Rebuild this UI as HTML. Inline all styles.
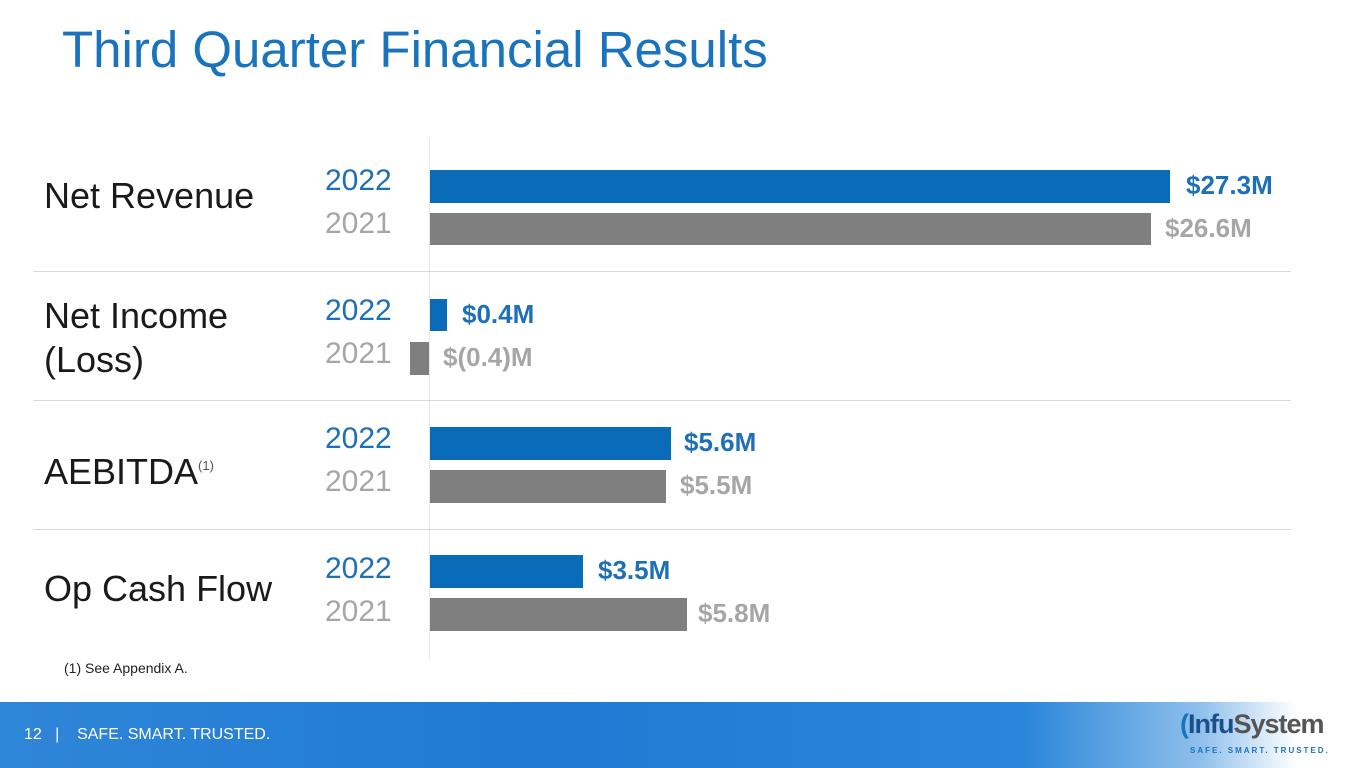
<!DOCTYPE html>
<html><head><meta charset="utf-8"><style>
*{margin:0;padding:0}
body{width:1365px;height:768px;position:relative;overflow:hidden;background:#fff;font-family:"Liberation Sans",sans-serif}
.a{position:absolute;white-space:nowrap}
.t{left:62px;top:20px;font-size:51px;color:#1a73bd}
.lab{font-size:36px;color:#1a1a1a;left:44px;line-height:44px}
.yr{font-size:30px;left:325px}
.b22{color:#1d6fb8}.b21{color:#a6a6a6}
.bar{position:absolute}
.bl{background:#0a6bb8}.gr{background:#7f7f7f}
.v{font-size:26px;font-weight:bold}
.sep{position:absolute;left:33px;width:1258px;height:1px;background:#d9d9d9}
</style></head><body>
<div class="a t">Third Quarter Financial Results</div>
<div style="position:absolute;left:429px;top:138px;width:1px;height:522px;background:#e8e8e8"></div>
<div class="sep" style="top:271px"></div><div class="sep" style="top:400px"></div><div class="sep" style="top:529px"></div>

<div class="a lab" style="top:174px">Net Revenue</div>
<div class="a lab" style="top:294px">Net Income<br>(Loss)</div>
<div class="a lab" style="top:444px">AEBITDA<sup style="font-size:13px;color:#555;vertical-align:14px">(1)</sup></div>
<div class="a lab" style="top:567px">Op Cash Flow</div>

<div class="a yr b22" style="top:164px">2022</div><div class="a yr b21" style="top:207px">2021</div>
<div class="a yr b22" style="top:294px">2022</div><div class="a yr b21" style="top:337px">2021</div>
<div class="a yr b22" style="top:422px">2022</div><div class="a yr b21" style="top:465px">2021</div>
<div class="a yr b22" style="top:552px">2022</div><div class="a yr b21" style="top:595px">2021</div>

<div class="bar bl" style="left:430px;top:170px;width:740px;height:33px"></div>
<div class="bar gr" style="left:430px;top:213px;width:721px;height:32px"></div>
<div class="bar bl" style="left:430px;top:299px;width:17px;height:32px"></div>
<div class="bar gr" style="left:410px;top:342px;width:19px;height:33px"></div>
<div class="bar bl" style="left:430px;top:427px;width:241px;height:33px"></div>
<div class="bar gr" style="left:430px;top:470px;width:236px;height:33px"></div>
<div class="bar bl" style="left:430px;top:555px;width:153px;height:33px"></div>
<div class="bar gr" style="left:430px;top:598px;width:257px;height:33px"></div>

<div class="a v b22" style="left:1186px;top:170px">$27.3M</div>
<div class="a v b21" style="left:1165px;top:213px">$26.6M</div>
<div class="a v b22" style="left:462px;top:299px">$0.4M</div>
<div class="a v b21" style="left:443px;top:342px">$(0.4)M</div>
<div class="a v b22" style="left:684px;top:427px">$5.6M</div>
<div class="a v b21" style="left:680px;top:470px">$5.5M</div>
<div class="a v b22" style="left:598px;top:555px">$3.5M</div>
<div class="a v b21" style="left:698px;top:598px">$5.8M</div>

<div class="a" style="left:64px;top:660px;font-size:14px;color:#222">(1) See Appendix A.</div>

<div style="position:absolute;left:0;top:702px;width:1365px;height:66px;background:linear-gradient(90deg,#2f86d8 0%,#1f7ad3 40%,#2a86da 75%,#8fc0ec 88%,#fff 95%)"></div>
<div class="a" style="left:24px;top:726px;font-size:16px;color:#fff">12 &nbsp;&nbsp;|&nbsp;&nbsp;&nbsp; SAFE. SMART. TRUSTED.</div>
<div class="a" style="left:1180px;top:709px;font-size:27px;font-weight:bold;color:#1a4f8c;letter-spacing:-1px"><span style="color:#1a73bd">(</span>Infu<span style="color:#555">System</span></div>
<div class="a" style="left:1190px;top:746px;font-size:8px;font-weight:bold;color:#1a73bd;letter-spacing:2px">SAFE. SMART. TRUSTED.</div>
</body></html>
